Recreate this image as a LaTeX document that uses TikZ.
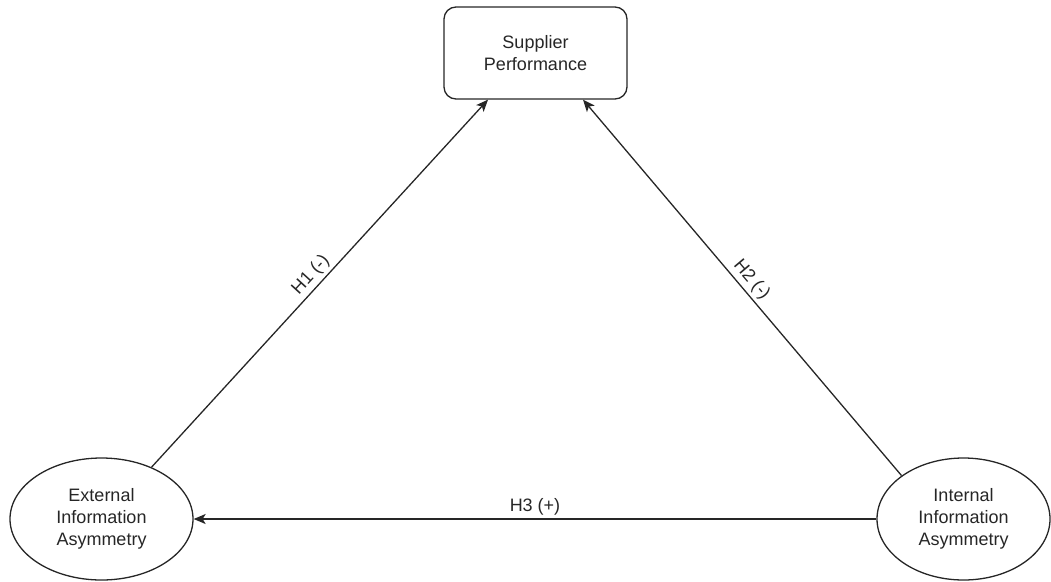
\documentclass[tikz,border=0pt]{standalone}
\usepackage{fontspec}
\setmainfont{Liberation Sans}
\usetikzlibrary{shapes.geometric,arrows.meta}
\begin{document}
\begin{tikzpicture}[x=1pt,y=-1pt,
  every node/.style={font=\fontsize{18}{21.7}\selectfont, text=black!85},
  boxnode/.style={draw=black!85, line width=1.3pt, rounded corners=12pt, minimum width=183pt, minimum height=92pt, align=center, inner sep=0pt},
  ellnode/.style={draw=black!85, ellipse, line width=1.3pt, align=center, inner sep=0pt},
  conn/.style={draw=black!85, line width=1.3pt, -{Stealth[length=12pt,width=10pt,inset=3pt]}},
  lbl/.style={midway, sloped, above, inner sep=3pt}]
\useasboundingbox (0,0) rectangle (1051,581);
\node[boxnode] (sup) at (535.5,53) {Supplier\\Performance};
\node[ellnode, minimum width=183pt, minimum height=122pt] (ext) at (101.5,519) {External\\Information\\Asymmetry};
\node[ellnode, minimum width=173pt, minimum height=122pt] (int) at (963.5,519) {Internal\\Information\\Asymmetry};
\coordinate (supL) at ([xshift=-47.5pt]sup.south);
\coordinate (supR) at ([xshift=47.5pt]sup.south);
\draw[conn] (ext.46) -- node[lbl] {H1 (-)} (supL);
\draw[conn] (int.145) -- node[lbl] {H2 (-)} (supR);
\draw[conn] (int.west) -- node[lbl] {H3 (+)} (ext.east);
\end{tikzpicture}
\end{document}
